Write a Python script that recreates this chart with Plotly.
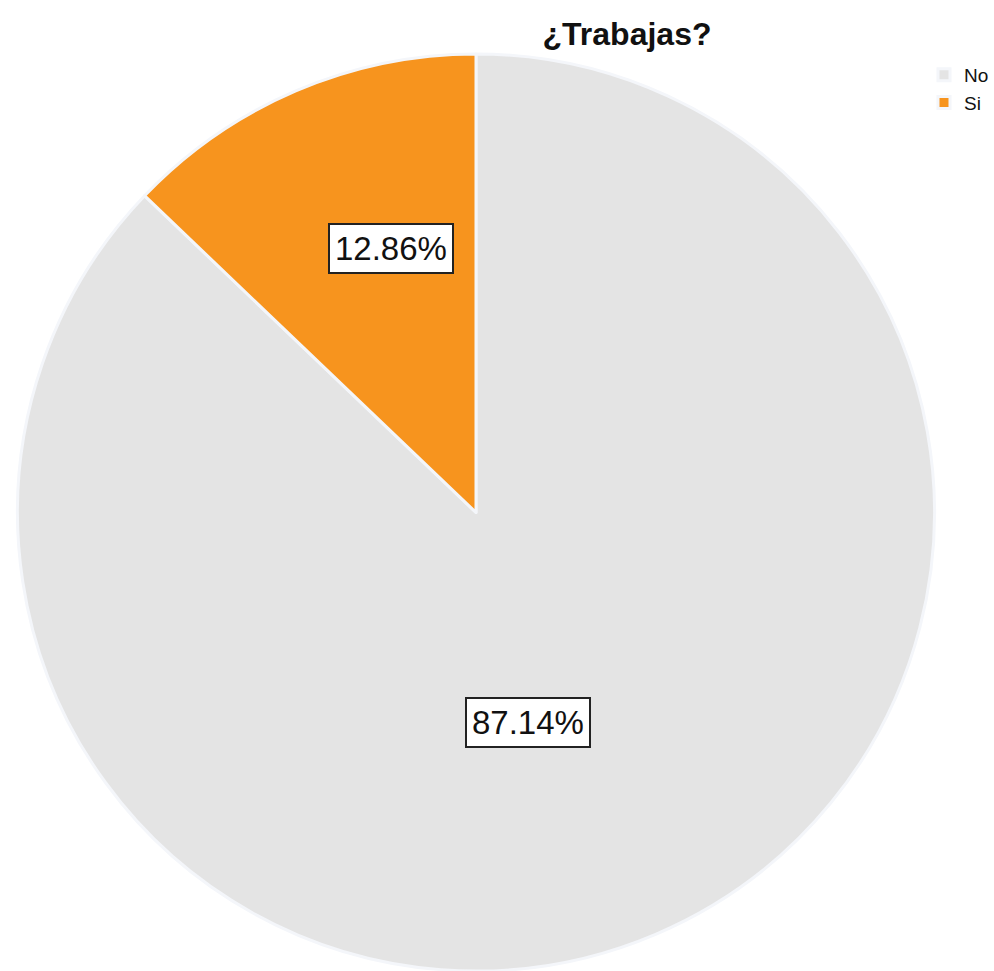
import plotly.graph_objects as go

# Survey answers to "¿Trabajas?" (share of respondents, %)
labels = ["No", "Si"]
shares = [87.14, 12.86]
colors = ["#e4e4e4", "#f7941e"]
label_text = ["87.14%", "12.86%"]

W, H = 994, 971
cx, cy, r = 476, 513, 459  # pie centre / radius in pixels

fig = go.Figure(
    go.Pie(
        labels=labels,
        values=shares,
        sort=False,
        direction="clockwise",
        rotation=0,
        textinfo="none",
        hoverinfo="label+percent",
        marker=dict(colors=colors, line=dict(color="#f4f6fa", width=3)),
        domain=dict(x=[(cx - r) / W, (cx + r) / W],
                    y=[max(0, (H - cy - r) / H), (H - cy + r) / H]),
        showlegend=True,
    )
)

# Boxed percentage labels
label_pos = [(528, 722), (391, 248)]
for txt, (px, py) in zip(label_text, label_pos):
    fig.add_annotation(
        x=px / W, y=1 - py / H, xref="paper", yref="paper",
        xanchor="center", yanchor="middle",
        text=txt, showarrow=False,
        font=dict(family="Liberation Sans, Arial, sans-serif", size=33, color="#111111"),
        bgcolor="white", bordercolor="#222222", borderwidth=2, borderpad=5,
    )

fig.update_layout(
    width=W, height=H,
    margin=dict(l=0, r=0, t=0, b=0, autoexpand=False),
    paper_bgcolor="white",
    plot_bgcolor="white",
    title=dict(
        text="<b>¿Trabajas?</b>",
        x=627 / W, xanchor="center",
        y=1 - 34 / H, yanchor="middle",
        font=dict(family="Liberation Sans, Arial, sans-serif", size=32, color="#111111"),
    ),
    legend=dict(
        x=1.0, y=1 - 56 / H, xanchor="right", yanchor="top",
        font=dict(family="Liberation Sans, Arial, sans-serif", size=19, color="#111111"),
        itemwidth=30, tracegroupgap=0,
        bgcolor="rgba(0,0,0,0)",
    ),
)

fig.write_html("out.html")
